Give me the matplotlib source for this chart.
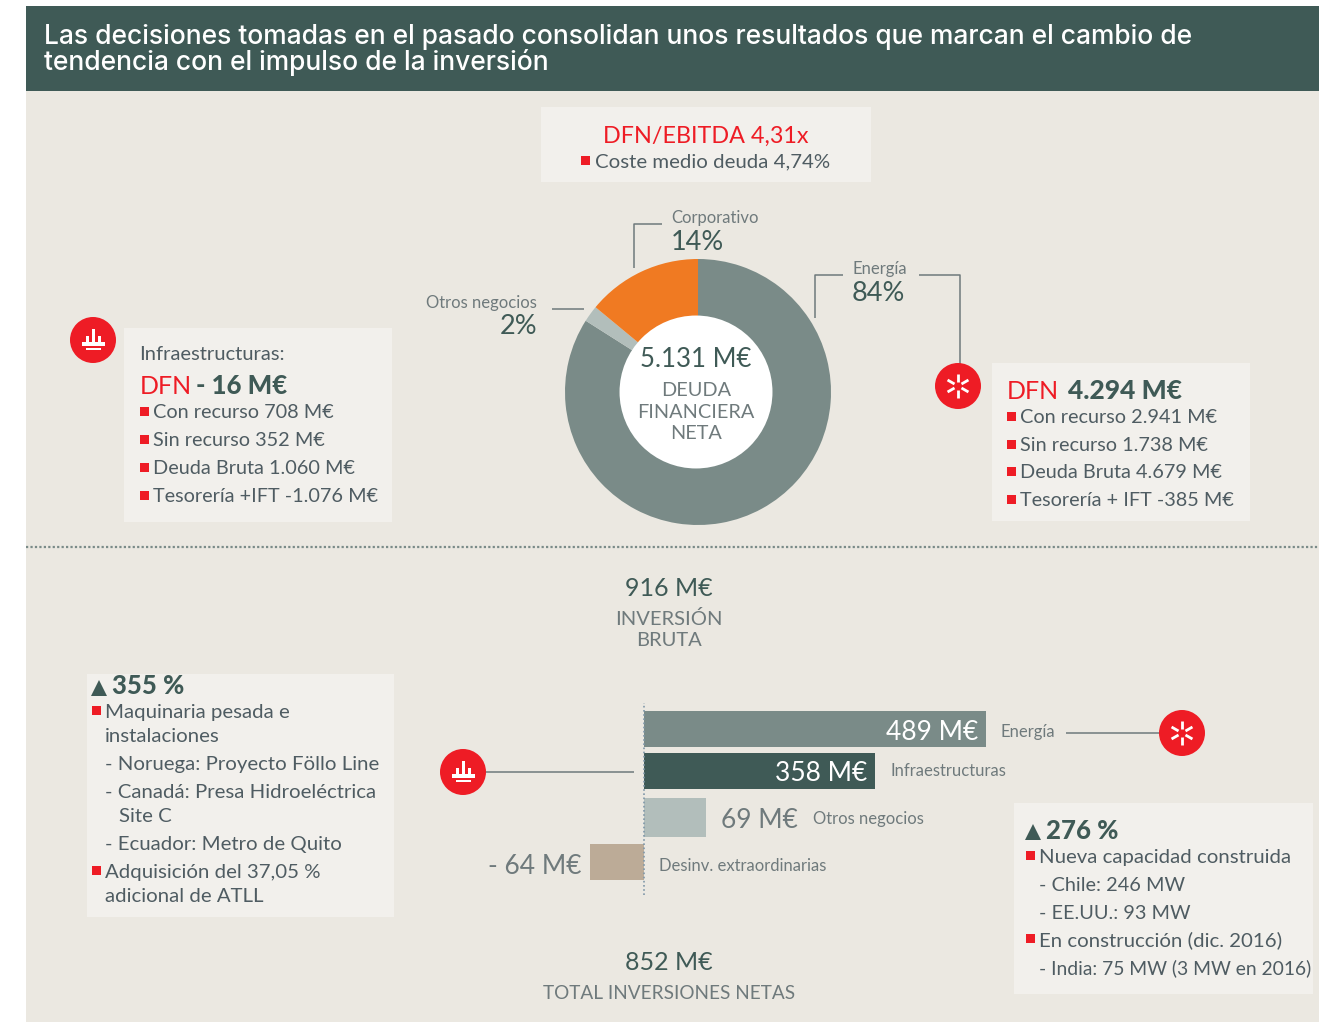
import matplotlib
matplotlib.use("Agg")
import matplotlib.pyplot as plt
from matplotlib.patches import Circle, Rectangle

W, H = 1319, 1022
DARK = "#3f5a56"
PANEL = "#ebe8e1"
BOX = "#f2f0ec"
RED = "#ee1c25"
TEXT = "#4f5c62"
LINE = "#6f7a7c"

title_lines = ["Las decisiones tomadas en el pasado consolidan unos resultados que marcan el cambio de",
               "tendencia con el impulso de la inversión"]

# donut
donut_labels = ["Energía", "Otros negocios", "Corporativo"]
donut_values = [84, 2, 14]
donut_colors = ["#7a8b88", "#b2bebb", "#f07a22"]
donut_total = "5.131 M€"
donut_caption = ["DEUDA", "FINANCIERA", "NETA"]

infra_rows = ["Con recurso 708 M€", "Sin recurso 352 M€", "Deuda Bruta 1.060 M€", "Tesorería +IFT -1.076 M€"]
energy_rows = ["Con recurso 2.941 M€", "Sin recurso 1.738 M€", "Deuda Bruta 4.679 M€", "Tesorería + IFT -385 M€"]

# bars: the source does not draw them to scale, so lengths are read off separately
bar_names = ["Energía", "Infraestructuras", "Otros negocios", "Desinv. extraordinarias"]
bar_labels = ["489 M€", "358 M€", "69 M€", "- 64 M€"]
bar_lengths = [489, 330, 89, -77]
bar_colors = ["#7a8b88", DARK, "#b2bebb", "#bcab97"]

BODY = 14.3
NOTE = 14.7
BIG = 18
SMALL = 12

plt.rcParams['font.family'] = ['Lato', 'DejaVu Sans']
fig = plt.figure(figsize=(W / 100, H / 100), dpi=100, facecolor="white")
ax = fig.add_axes([0, 0, 1, 1])
ax.set_xlim(0, W)
ax.set_ylim(H, 0)
ax.axis("off")

# all text goes on a top layer above the donut and the bars
top = fig.add_axes([0, 0, 1, 1], zorder=3)
top.set_xlim(0, W)
top.set_ylim(H, 0)
top.axis("off")


def sub_axes(x0, y0, x1, y1):
    return fig.add_axes([x0 / W, 1 - y1 / H, (x1 - x0) / W, (y1 - y0) / H], zorder=2)


def rect(x0, y0, x1, y1, color, z=1):
    ax.add_patch(Rectangle((x0, y0), x1 - x0, y1 - y0, fc=color, ec="none", zorder=z))


def txt(x, y, s, size, color=TEXT, ha="left", **kw):
    top.text(x, y, s, fontsize=size, color=color, ha=ha, va="baseline", **kw)


def bullet(x, y):
    rect(x, y - 11, x + 8.5, y - 2, RED, 5)


def leader(xs, ys):
    ax.plot(xs, ys, color=LINE, lw=1.1, zorder=3, solid_capstyle="butt")


def icon(x, y, kind):
    ax.add_patch(Circle((x, y), 23, fc=RED, ec="none", zorder=6))
    if kind == "star":
        for dx, dy in [(0, 1), (0.87, 0.5), (0.87, -0.5)]:
            for s in (1, -1):
                ax.plot([x + s * 4 * dx, x + s * 12 * dx], [y + s * 4 * dy, y + s * 12 * dy],
                        color="white", lw=2, zorder=7, solid_capstyle="butt")
    else:
        rect(x - 11, y + 2, x + 12, y + 6, "white", 7)
        rect(x - 7, y + 8, x + 8, y + 10, "white", 7)
        for dx, h in [(-6, 6), (0, 13), (6, 6)]:
            rect(x + dx - 1.5, y + 2 - h, x + dx + 1.5, y + 2, "white", 7)


def triangle(x, y):
    ax.plot([x], [y], marker="^", ms=11, color=DARK, mew=0, zorder=5)


# background
rect(26, 6, W, 91, DARK)
rect(26, 91, W, 1022, PANEL)
ax.plot([26, W], [547, 547], color="#7a8b88", lw=1.6, ls=(0, (1, 1)), zorder=2)

txt(44, 44, title_lines[0], 19, "white", family="Inter", fontweight="medium")
txt(44, 70, title_lines[1], 19, "white", family="Inter", fontweight="medium")

# top box
rect(541, 107, 871, 182, BOX)
txt(706, 143, "DFN/EBITDA 4,31x", 16.8, RED, ha="center")
bullet(581, 167)
txt(595, 167, "Coste medio deuda 4,74%", NOTE)

# donut
pie_ax = sub_axes(565, 259, 831, 525)
pie_ax.pie(donut_values, colors=donut_colors, startangle=90, counterclock=False, radius=1,
           wedgeprops=dict(width=0.45, edgecolor="none"))
pie_ax.add_patch(Circle((-0.015, 0), 0.575, fc="white", ec="none", zorder=5))
pie_ax.set_xlim(-1, 1)
pie_ax.set_ylim(-1, 1)

txt(696, 367, donut_total, 18.5, DARK, ha="center")
for i, s in enumerate(donut_caption):
    txt(696, 396 + i * 21.5, s, 14.3, LINE, ha="center")

txt(671, 223, donut_labels[2], SMALL, LINE)
txt(671, 250, f"{donut_values[2]}%", 19.5, DARK)
txt(852, 274, donut_labels[0], SMALL, LINE)
txt(852, 301, f"{donut_values[0]}%", 19.5, DARK)
txt(537, 308, donut_labels[1], SMALL, LINE, ha="right")
txt(537, 334, f"{donut_values[1]}%", 19.5, DARK, ha="right")
leader([634, 634, 662], [268, 224, 224])
leader([815, 815, 843], [318, 275, 275])
leader([919, 960, 960], [275, 275, 364])
leader([552, 584], [309, 309])

# infrastructure box
rect(124, 328, 392, 522, BOX)
icon(93, 340, "infra")
txt(139, 360, "Infraestructuras:", 14.5)
txt(140, 394, "DFN", 18, RED)
txt(196, 394, "- 16 M€", 18.5, DARK, fontweight="black")
for i, s in enumerate(infra_rows):
    y = 418 + i * 28
    bullet(140, y)
    txt(153, y, s, BODY)

# energy box
rect(992, 363, 1250, 521, BOX)
icon(958, 386, "star")
txt(1007, 399, "DFN", 18, RED)
txt(1068, 399, "4.294 M€", 19, DARK, fontweight="black")
for i, s in enumerate(energy_rows):
    y = 423 + i * 27.7
    bullet(1007, y)
    txt(1020, y, s, BODY)

# investment heading
txt(669, 596, "916 M€", BIG, DARK, ha="center")
txt(669, 625, "INVERSIÓN", 14.5, LINE, ha="center")
txt(669, 646, "BRUTA", 14.5, LINE, ha="center")

# bars
bar_ax = sub_axes(590, 703, 986, 895)
bar_y = [26, 68, 114, 159]
bar_h = [36, 36, 39, 36]
bar_ax.barh(bar_y, bar_lengths, height=bar_h, color=bar_colors, linewidth=0)
bar_ax.set_xlim(min(bar_lengths), max(bar_lengths))
bar_ax.set_ylim(192, 0)
bar_ax.axis("off")
bar_ax.patch.set_alpha(0)
bar_ax.axvline(0, color="#7f97a8", lw=1.2, ls=(0, (1, 1.5)), zorder=3)

txt(978, 740, bar_labels[0], 19, "white", ha="right")
txt(867, 781, bar_labels[1], 19, "white", ha="right")
txt(721, 828, bar_labels[2], 19, LINE)
txt(581, 874, bar_labels[3], 19, LINE, ha="right")
txt(1001, 737, bar_names[0], SMALL, LINE)
txt(890, 776, bar_names[1], SMALL, LINE)
txt(813, 824, bar_names[2], SMALL, LINE)
txt(659, 871, bar_names[3], SMALL, LINE)
icon(1182, 733, "star")
icon(463, 772, "infra")
leader([1066, 1160], [733, 733])
leader([486, 634], [772, 772])

# left note
rect(87, 674, 394, 917, BOX)
triangle(99, 688)
txt(112, 694, "355 %", 18.5, DARK, fontweight="black")
bullet(92, 717)
txt(105, 718, "Maquinaria pesada e", NOTE)
txt(105, 742, "instalaciones", NOTE)
txt(105, 770, "- Noruega: Proyecto Föllo Line", NOTE)
txt(105, 798, "- Canadá: Presa Hidroeléctrica", NOTE)
txt(119, 822, "Site C", NOTE)
txt(105, 850, "- Ecuador: Metro de Quito", NOTE)
bullet(92, 877)
txt(105, 878, "Adquisición del 37,05 %", NOTE)
txt(105, 902, "adicional de ATLL", NOTE)

# right note
rect(1014, 803, 1313, 994, BOX)
triangle(1033, 832)
txt(1046, 839, "276 %", 18.5, DARK, fontweight="black")
bullet(1026, 862)
txt(1039, 863, "Nueva capacidad construida", NOTE)
txt(1039, 891, "- Chile: 246 MW", BODY)
txt(1039, 919, "- EE.UU.: 93 MW", BODY)
bullet(1026, 945)
txt(1039, 946, "En construcción (dic. 2016)", NOTE)
txt(1039, 974, "- India: 75 MW (3 MW en 2016)", 13.9)

# totals
txt(669, 970, "852 M€", BIG, DARK, ha="center")
txt(669, 999, "TOTAL INVERSIONES NETAS", 13.7, LINE, ha="center")

fig.savefig("out.png", dpi=100)
